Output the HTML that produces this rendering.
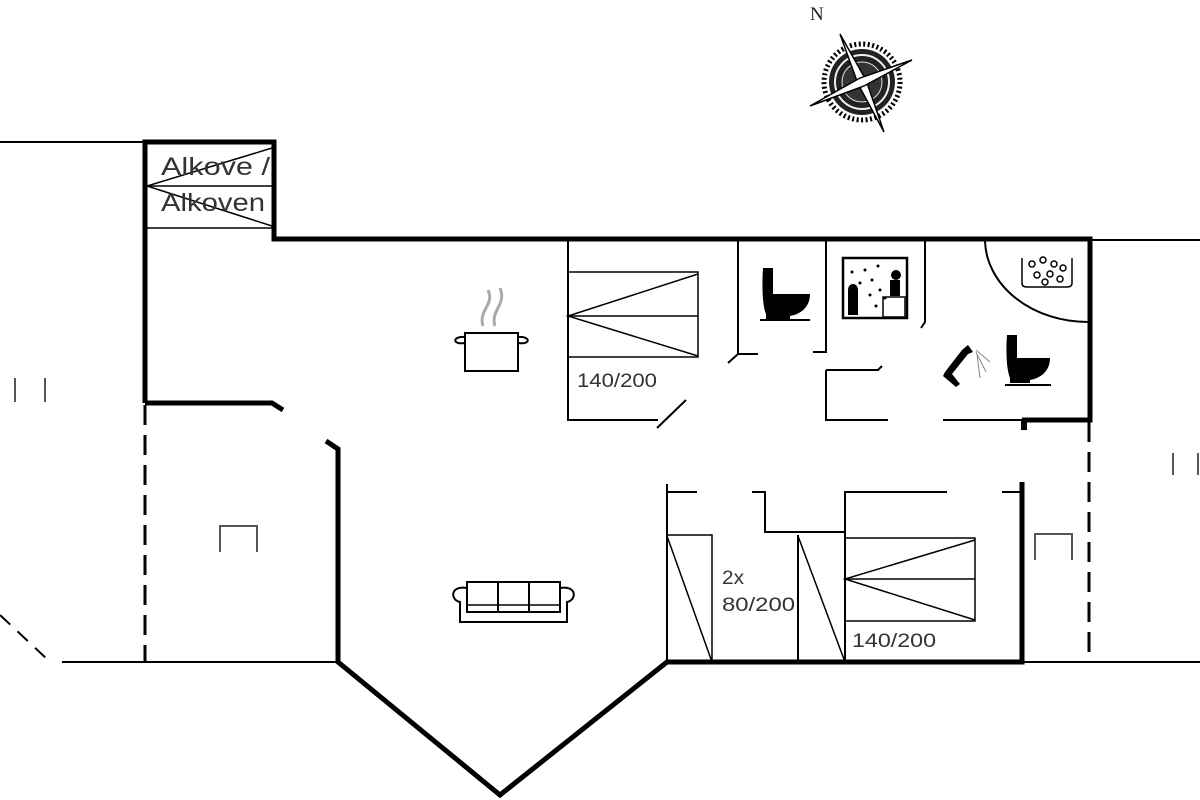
<!DOCTYPE html>
<html><head><meta charset="utf-8"><style>
html,body{margin:0;padding:0;background:#fff;width:1200px;height:800px;overflow:hidden}
svg{display:block}
text{font-family:"Liberation Sans",sans-serif;fill:#333}
</style></head><body>
<svg width="1200" height="800" viewBox="0 0 1200 800" xmlns="http://www.w3.org/2000/svg">
<g stroke="#000" fill="none" stroke-linecap="butt">
<line x1="0" y1="142" x2="145" y2="142" stroke-width="2"/>
<line x1="1090" y1="240" x2="1200" y2="240" stroke-width="2"/>
<line x1="62" y1="662" x2="338" y2="662" stroke-width="2"/>
<line x1="1022" y1="662" x2="1200" y2="662" stroke-width="2"/>
<line x1="0" y1="615" x2="48" y2="660" stroke-width="2" stroke-dasharray="14,10"/>
<polyline points="145,403 145,142 274,142 274,239 1090,239 1090,420 1022,420" stroke-width="5"/>
<polyline points="145,403 272,403 283,410" stroke-width="5"/>
<polyline points="326,441 338,449 338,662 500,795 667,662 1022,662 1022,482" stroke-width="5"/>
<line x1="1024" y1="420" x2="1024" y2="430" stroke-width="6"/>
<line x1="1000" y1="420" x2="1022" y2="420" stroke-width="2"/>
<line x1="145" y1="405" x2="145" y2="662" stroke-width="3" stroke-dasharray="20,10"/>
<line x1="1089" y1="422" x2="1089" y2="662" stroke-width="3" stroke-dasharray="20,10"/>
<line x1="147" y1="186" x2="272" y2="186" stroke-width="1.5"/>
<line x1="147" y1="228" x2="272" y2="228" stroke-width="1.5"/>
<polyline points="272,148 147,186 272,226" stroke-width="1.5"/>
<polyline points="568,239 568,420 658,420" stroke-width="2"/>
<line x1="657" y1="428" x2="686" y2="400" stroke-width="2"/>
<rect x="568" y="272" width="130" height="85" stroke-width="1.5"/>
<line x1="568" y1="316" x2="698" y2="316" stroke-width="1.5"/>
<polyline points="698,274 568,316 698,356" stroke-width="1.5"/>
<polyline points="738,239 738,354 758,354" stroke-width="2"/>
<line x1="738" y1="354" x2="728" y2="363" stroke-width="2"/>
<polyline points="826,239 826,352 813,352" stroke-width="2"/>
<polyline points="826,370 826,420 888,420" stroke-width="2"/>
<polyline points="826,370 878,370 882,366" stroke-width="2"/>
<line x1="943" y1="420" x2="1022" y2="420" stroke-width="2"/>
<polyline points="925,239 925,322 921,328" stroke-width="2"/>
<rect x="843" y="258" width="64" height="60" stroke-width="2.5"/>
<path d="M985,241 A103,83 0 0 0 1088,322" stroke-width="2"/>
<line x1="667" y1="484" x2="667" y2="662" stroke-width="2"/>
<line x1="667" y1="492" x2="697" y2="492" stroke-width="2"/>
<polyline points="752,492 765,492 765,532 845,532" stroke-width="2"/>
<polyline points="845,662 845,492 947,492" stroke-width="2"/>
<line x1="1002" y1="492" x2="1022" y2="492" stroke-width="2"/>
<polyline points="667,535 712,535 712,662" stroke-width="1.5"/>
<line x1="667" y1="536" x2="712" y2="662" stroke-width="1.5"/>
<line x1="798" y1="535" x2="798" y2="662" stroke-width="2"/>
<line x1="798" y1="536" x2="845" y2="662" stroke-width="1.5"/>
<rect x="845" y="538" width="130" height="83" stroke-width="1.5"/>
<line x1="845" y1="579" x2="975" y2="579" stroke-width="1.5"/>
<polyline points="975,540 845,579 975,620" stroke-width="1.5"/>
<g stroke="#555" stroke-width="2">
<line x1="15" y1="378" x2="15" y2="402"/><line x1="45" y1="378" x2="45" y2="402"/>
<polyline points="220,552 220,526 257,526 257,552"/>
<polyline points="1035,560 1035,534 1072,534 1072,560"/>
<line x1="1173" y1="453" x2="1173" y2="475"/>
<line x1="1198" y1="453" x2="1198" y2="475"/>
</g>
<rect x="465" y="333" width="53" height="38" stroke-width="2"/>
<path d="M465,337 C452,336 452,345 465,343 M518,337 C531,336 531,345 518,343" stroke-width="2"/>
<path d="M483,326 C478,310 495,305 488,290 M495,326 C490,310 507,305 500,288" stroke="#aaa" stroke-width="3"/>
<rect x="467" y="582" width="93" height="30" stroke-width="2"/>
<line x1="498" y1="582" x2="498" y2="612" stroke-width="2"/><line x1="529" y1="582" x2="529" y2="612" stroke-width="2"/>
<line x1="467" y1="605" x2="560" y2="605" stroke-width="1.5"/>
<path d="M467,588 C450,585 450,600 460,602 L460,622 L567,622 L567,602 C577,600 577,585 560,588" stroke-width="2"/>
</g>
<g fill="#000">
<path d="M763,268 h10 v26 h37 c0,12 -8,20 -20,22 v3 h-24 v-5 c-4,-10 -4,-30 -3,-46z"/>
<rect x="760" y="319" width="50" height="2"/>
<path d="M1007,335 h10 v23 h33 c0,12 -8,20 -20,22 v3 h-20 v-5 c-4,-10 -4,-30 -3,-43z"/>
<rect x="1005" y="384" width="46" height="2"/>
<path d="M945,372 L962,350 L968,345 L973,352 L968,354 L952,374 L960,384 L956,387 L943,376z"/>
<path d="M848,290 c0,-8 10,-8 10,0 v25 h-10z"/>
<circle cx="896" cy="275" r="5"/><rect x="890" y="280" width="10" height="16"/>
</g>
<g fill="none" stroke="#000" stroke-width="1.5">
<rect x="883" y="297" width="22" height="20"/>
<circle cx="1032" cy="264" r="3"/><circle cx="1043" cy="260" r="3"/><circle cx="1054" cy="264" r="3"/><circle cx="1063" cy="268" r="3"/>
<circle cx="1037" cy="275" r="3"/><circle cx="1050" cy="274" r="3"/><circle cx="1060" cy="279" r="3"/><circle cx="1045" cy="282" r="3"/>
<path d="M1022,258 v25 c0,3 2,4 5,4 h40 c3,0 5,-1 5,-4 v-25"/>
</g>
<g stroke="#888" stroke-width="1">
<line x1="976" y1="350" x2="990" y2="362"/><line x1="976" y1="352" x2="986" y2="372"/><line x1="977" y1="354" x2="980" y2="378"/>
</g>
<g fill="#000"><circle cx="852" cy="272" r="1.5"/><circle cx="860" cy="283" r="1.5"/><circle cx="865" cy="270" r="1.5"/><circle cx="872" cy="280" r="1.5"/><circle cx="878" cy="266" r="1.5"/><circle cx="870" cy="295" r="1.5"/><circle cx="880" cy="290" r="1.5"/><circle cx="885" cy="298" r="1.5"/><circle cx="876" cy="306" r="1.5"/></g>
<g transform="translate(862,82)">
<circle r="38" fill="none" stroke="#000" stroke-width="5" stroke-dasharray="2,2.5"/>
<circle r="33" fill="#222"/>
<circle r="27" fill="none" stroke="#eee" stroke-width="2"/>
<circle r="20" fill="#333" stroke="#ddd" stroke-width="1"/>
<polygon points="-22,-48 4,-2 22,50 -4,2" fill="#fff" stroke="#000" stroke-width="1.5"/>
<polygon points="50,-22 2,4 -52,24 -2,-4" fill="#fff" stroke="#000" stroke-width="1.5"/>
</g>
<text x="810" y="20" font-size="19" style="font-family:'Liberation Serif',serif;fill:#222">N</text>
<text x="161" y="175" font-size="25" textLength="109" lengthAdjust="spacingAndGlyphs">Alkove /</text>
<text x="161" y="211" font-size="25" textLength="104" lengthAdjust="spacingAndGlyphs">Alkoven</text>
<text x="577" y="387" font-size="19" textLength="80" lengthAdjust="spacingAndGlyphs">140/200</text>
<text x="722" y="584" font-size="19" textLength="22" lengthAdjust="spacingAndGlyphs">2x</text>
<text x="722" y="611" font-size="19" textLength="73" lengthAdjust="spacingAndGlyphs">80/200</text>
<text x="852" y="647" font-size="19" textLength="84" lengthAdjust="spacingAndGlyphs">140/200</text>
</svg>
</body></html>
